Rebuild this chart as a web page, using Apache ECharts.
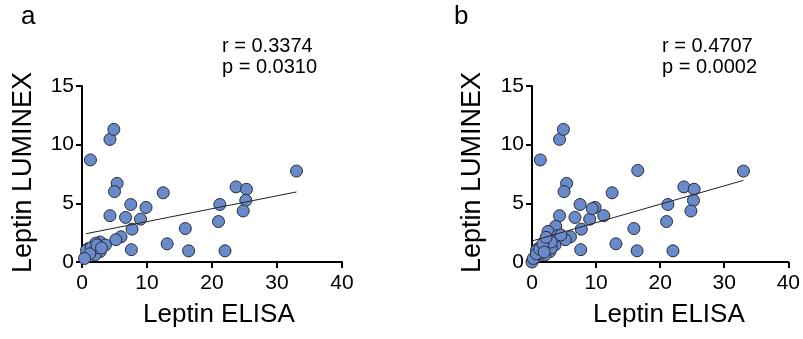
<!DOCTYPE html>
<html>
<head>
<meta charset="utf-8">
<script src="https://cdn.jsdelivr.net/npm/echarts@6/dist/echarts.min.js"></script>
<style>
  html, body { margin: 0; padding: 0; background: #fff; }
  #chart { width: 803px; height: 339px; }
</style>
</head>
<body>
<div id="chart"></div>
<script>
// 数据：面板 a
const pointsA = [
  [1.3, 8.7], [4.3, 10.45], [4.9, 11.3], [5.4, 6.7], [5.0, 6.0], [12.5, 5.9],
  [23.7, 6.4], [25.3, 6.2], [33.0, 7.75], [25.2, 5.25], [21.2, 4.9], [24.8, 4.35],
  [21.0, 3.45], [7.5, 4.9], [9.85, 4.65], [4.3, 3.95], [6.7, 3.8], [9.0, 3.65],
  [7.7, 2.8], [15.9, 2.85], [6.0, 2.15], [5.2, 1.9], [13.1, 1.55], [7.6, 1.05],
  [16.4, 0.95], [22.0, 0.95], [2.8, 1.7], [3.6, 1.45], [2.1, 1.6], [1.7, 0.85],
  [1.0, 1.15], [0.6, 0.5], [2.8, 0.9], [2.0, 0.6], [0.7, 1.0], [1.4, 1.2],
  [2.4, 1.2], [1.2, 0.7], [2.3, 1.45], [0.4, 0.3], [3.0, 1.2]
]
const fitA = [[0.6, 2.41], [33.0, 5.97]]

// 数据：面板 b
const pointsB = [
  [1.3, 8.7], [4.3, 10.45], [4.9, 11.3], [5.4, 6.7], [5.0, 6.0], [12.5, 5.9],
  [23.7, 6.4], [25.3, 6.2], [33.0, 7.75], [25.2, 5.25], [21.2, 4.9], [24.8, 4.35],
  [21.0, 3.45], [7.5, 4.9], [9.85, 4.65], [4.3, 3.95], [6.7, 3.8], [9.0, 3.65],
  [7.7, 2.8], [15.9, 2.85], [6.0, 2.15], [5.2, 1.9], [13.1, 1.55], [7.6, 1.05],
  [16.4, 0.95], [22.0, 0.95], [2.8, 1.7], [3.6, 1.45], [2.1, 1.6], [1.7, 0.85],
  [1.0, 1.15], [0.6, 0.5], [2.8, 0.9], [2.0, 0.6], [0.7, 1.0], [1.4, 1.2],
  [2.4, 1.2], [1.2, 0.7], [2.3, 1.45], [0.4, 0.3], [3.0, 1.2],
  [16.5, 7.8], [11.2, 3.95], [9.4, 4.55], [3.7, 3.05], [2.5, 2.6], [4.0, 2.25],
  [0.0, 0.0], [0.2, 0.3], [0.7, 0.7], [1.2, 1.1], [3.0, 1.7], [1.7, 1.55],
  [2.2, 2.1], [4.5, 2.3], [1.9, 0.85]
]
const fitB = [[0.0, 1.79], [33.0, 6.96]]

const xTicks = { min: 0, max: 40, interval: 10 }
const yTicks = { min: 0, max: 15, interval: 5 }
const statsA = ['r = 0.3374', 'p = 0.0310']
const statsB = ['r = 0.4707', 'p = 0.0002']

const FONT = 'Liberation Sans, Arial, sans-serif'
const dotColor = '#6a8bca'

const chart = echarts.init(document.getElementById('chart'), null, { renderer: 'canvas' })

const axisCommon = {
  axisLine: { show: true, onZero: false, lineStyle: { color: '#000', width: 2 } },
  axisTick: { show: true, length: 6, lineStyle: { color: '#000', width: 2 } },
  axisLabel: { color: '#000', fontSize: 21, fontFamily: FONT },
  splitLine: { show: false }
}

const makeX = (gridIndex) => ({
  type: 'value', gridIndex, ...xTicks, ...axisCommon,
  axisLabel: { ...axisCommon.axisLabel, margin: 11 }
})
const makeY = (gridIndex) => ({
  type: 'value', gridIndex, ...yTicks, ...axisCommon,
  axisLabel: { ...axisCommon.axisLabel, margin: 8 }
})

const scatter = (idx, data) => ({
  type: 'scatter', xAxisIndex: idx, yAxisIndex: idx, data,
  symbolSize: 12, z: 2,
  itemStyle: { color: dotColor, borderColor: '#2b2b3a', borderWidth: 1, opacity: 1 }
})
const fitLine = (idx, data) => ({
  type: 'line', xAxisIndex: idx, yAxisIndex: idx, data,
  symbol: 'none', z: 3, silent: true,
  lineStyle: { color: '#222', width: 1 }
})

const textEl = (text, left, top, size, extra) => ({
  type: 'text', left, top,
  style: { text, fontSize: size, fontFamily: FONT, fill: '#000', ...extra }
})

const option = {
  animation: false,
  backgroundColor: '#fff',
  grid: [
    { left: 82, top: 86, width: 260, height: 176 },
    { left: 532, top: 86, width: 260, height: 176 }
  ],
  xAxis: [makeX(0), makeX(1)],
  yAxis: [makeY(0), makeY(1)],
  series: [
    scatter(0, pointsA), fitLine(0, fitA),
    scatter(1, pointsB), fitLine(1, fitB)
  ],
  graphic: [
    textEl('a', 21, 4, 26),
    textEl('b', 454, 4, 26),
    textEl(statsA.join('\n'), 222, 36, 20, { lineHeight: 21 }),
    textEl(statsB.join('\n'), 662, 36, 20, { lineHeight: 21 }),
    textEl('Leptin ELISA', 143, 302, 26),
    textEl('Leptin ELISA', 593, 302, 26),
    {
      type: 'text', x: 10, y: 273, rotation: Math.PI / 2,
      style: { text: 'Leptin LUMINEX', fontSize: 27, fontFamily: FONT, fill: '#000' }
    },
    {
      type: 'text', x: 459, y: 273, rotation: Math.PI / 2,
      style: { text: 'Leptin LUMINEX', fontSize: 27, fontFamily: FONT, fill: '#000' }
    }
  ]
}

chart.setOption(option)
</script>
</body>
</html>
